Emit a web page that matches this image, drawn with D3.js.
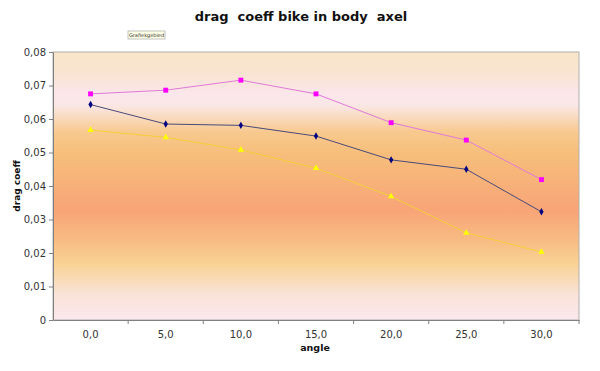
<!DOCTYPE html>
<html lang="en">
<head>
<meta charset="utf-8">
<title>drag coeff bike in body axel</title>
<style>
  body { margin: 0; background: #fff; }
  text { font-family: "DejaVu Sans", Verdana, sans-serif; }
</style>
</head>
<body>
<div id="chart"></div>
<script src="https://cdn.jsdelivr.net/npm/d3@7"></script>
<script>
var width = 600,
    height = 371;

var margin = {top: 52, right: 21, bottom: 51, left: 53};

// data
var angles = ["0,0", "5,0", "10,0", "15,0", "20,0", "25,0", "30,0"];
var pinkSeries = [0.0675, 0.0686, 0.0716, 0.0675, 0.0589, 0.0537, 0.0419];
var navySeries = [0.0643, 0.0585, 0.0581, 0.0549, 0.0478, 0.0450, 0.0323];
var yellowSeries = [0.0567, 0.0545, 0.0508, 0.0453, 0.0369, 0.0260, 0.0203];
var yTicks = [0, 0.01, 0.02, 0.03, 0.04, 0.05, 0.06, 0.07, 0.08];

var series = [
  {name: "pink", values: pinkSeries, line: "#e07ad8", fill: "#ff00ff", shape: d3.symbolSquare, size: 24},
  {name: "navy", values: navySeries, line: "#4a4a7a", fill: "#000080", shape: d3.symbolDiamond, size: 16},
  {name: "yellow", values: yellowSeries, line: "#f5cf3a", fill: "#ffff00", shape: d3.symbolTriangle, size: 18}
];

var svg = d3.select("#chart")
    .append("svg")
    .attr("width", width)
    .attr("height", height);

var x = d3.scaleBand()
    .domain(angles)
    .range([margin.left, width - margin.right]);

var y = d3.scaleLinear()
    .domain([0, 0.08])
    .range([height - margin.bottom, margin.top]);

// background gradient of the plot area
var grad = svg.append("defs").append("linearGradient")
    .attr("id", "bg")
    .attr("x1", 0).attr("y1", 0).attr("x2", 0).attr("y2", 1);
[
  [0, "#f9e5c8"], [0.08, "#f9e4d2"], [0.16, "#fbe6ec"], [0.2, "#fae7e4"],
  [0.3, "#f8c98e"], [0.38, "#f6be7a"], [0.5, "#f7b079"], [0.59, "#f8a477"],
  [0.7, "#f8bb82"], [0.79, "#f9d294"], [0.9, "#f9e2d6"], [1, "#fbe8ee"]
].forEach(function(s) {
  grad.append("stop").attr("offset", s[0]).attr("stop-color", s[1]);
});

svg.append("rect")
    .attr("x", margin.left)
    .attr("y", margin.top)
    .attr("width", width - margin.left - margin.right)
    .attr("height", height - margin.top - margin.bottom)
    .attr("fill", "url(#bg)")
    .attr("stroke", "#b0b0b0")
    .attr("stroke-width", 1);

// axes
var yAxis = svg.append("g")
    .attr("transform", "translate(" + margin.left + ",0)")
    .call(d3.axisLeft(y).tickValues(yTicks).tickSize(4).tickSizeOuter(0)
      .tickFormat(function(d) { return d === 0 ? "0" : d3.format(".2f")(d).replace(".", ","); }));

var xAxis = svg.append("g")
    .attr("transform", "translate(0," + (height - margin.bottom) + ")")
    .call(d3.axisBottom(x).tickSize(0).tickSizeOuter(0).tickPadding(11));

// x tick marks sit between categories
xAxis.selectAll(".sep")
    .data(angles.slice(1).concat(["end"]))
    .enter().append("line")
    .attr("x1", function(d, i) { return x(angles[i]) + x.bandwidth(); })
    .attr("x2", function(d, i) { return x(angles[i]) + x.bandwidth(); })
    .attr("y1", 0).attr("y2", 4)
    .attr("stroke", "#808080");

[yAxis, xAxis].forEach(function(g) {
  g.selectAll("path.domain").attr("stroke", "#808080");
  g.selectAll(".tick line").attr("stroke", "#808080");
  g.selectAll("text").attr("font-size", 10).attr("fill", "#333");
});
yAxis.selectAll("text").attr("x", -7);

// lines and markers
var line = d3.line()
    .x(function(d, i) { return x(angles[i]) + x.bandwidth() / 2; })
    .y(function(d) { return y(d); });

series.forEach(function(s) {
  svg.append("path")
      .datum(s.values)
      .attr("fill", "none")
      .attr("stroke", s.line)
      .attr("stroke-width", 1)
      .attr("d", line);

  svg.selectAll(".m-" + s.name)
      .data(s.values)
      .enter().append("path")
      .attr("class", "m-" + s.name)
      .attr("transform", function(d, i) {
        return "translate(" + (x(angles[i]) + x.bandwidth() / 2) + "," + y(d) + ")";
      })
      .attr("d", d3.symbol().type(s.shape).size(s.size))
      .attr("fill", s.fill);
});

// title and axis labels
svg.append("text")
    .attr("x", 301)
    .attr("y", 21)
    .attr("text-anchor", "middle")
    .attr("font-size", 13)
    .attr("font-weight", "bold")
    .attr("fill", "#111")
    .style("white-space", "pre")
    .text("drag  coeff bike in body  axel");

svg.append("text")
    .attr("transform", "translate(20," + (margin.top + (height - margin.top - margin.bottom) / 2) + ") rotate(-90)")
    .attr("text-anchor", "middle")
    .attr("font-size", 9)
    .attr("font-weight", "bold")
    .attr("fill", "#111")
    .text("drag coeff");

svg.append("text")
    .attr("x", 315)
    .attr("y", 351)
    .attr("text-anchor", "middle")
    .attr("font-size", 9.5)
    .attr("font-weight", "bold")
    .attr("fill", "#111")
    .text("angle");

// little tooltip box left over in the picture
var tip = svg.append("g").attr("transform", "translate(128,31)");
tip.append("rect")
    .attr("width", 37).attr("height", 8)
    .attr("fill", "#ffffe6")
    .attr("stroke", "#999")
    .attr("stroke-width", 0.6);
tip.append("text")
    .attr("x", 18.5).attr("y", 6)
    .attr("text-anchor", "middle")
    .attr("font-size", 5)
    .attr("fill", "#333")
    .text("Grafiekgebied");
</script>
</body>
</html>
